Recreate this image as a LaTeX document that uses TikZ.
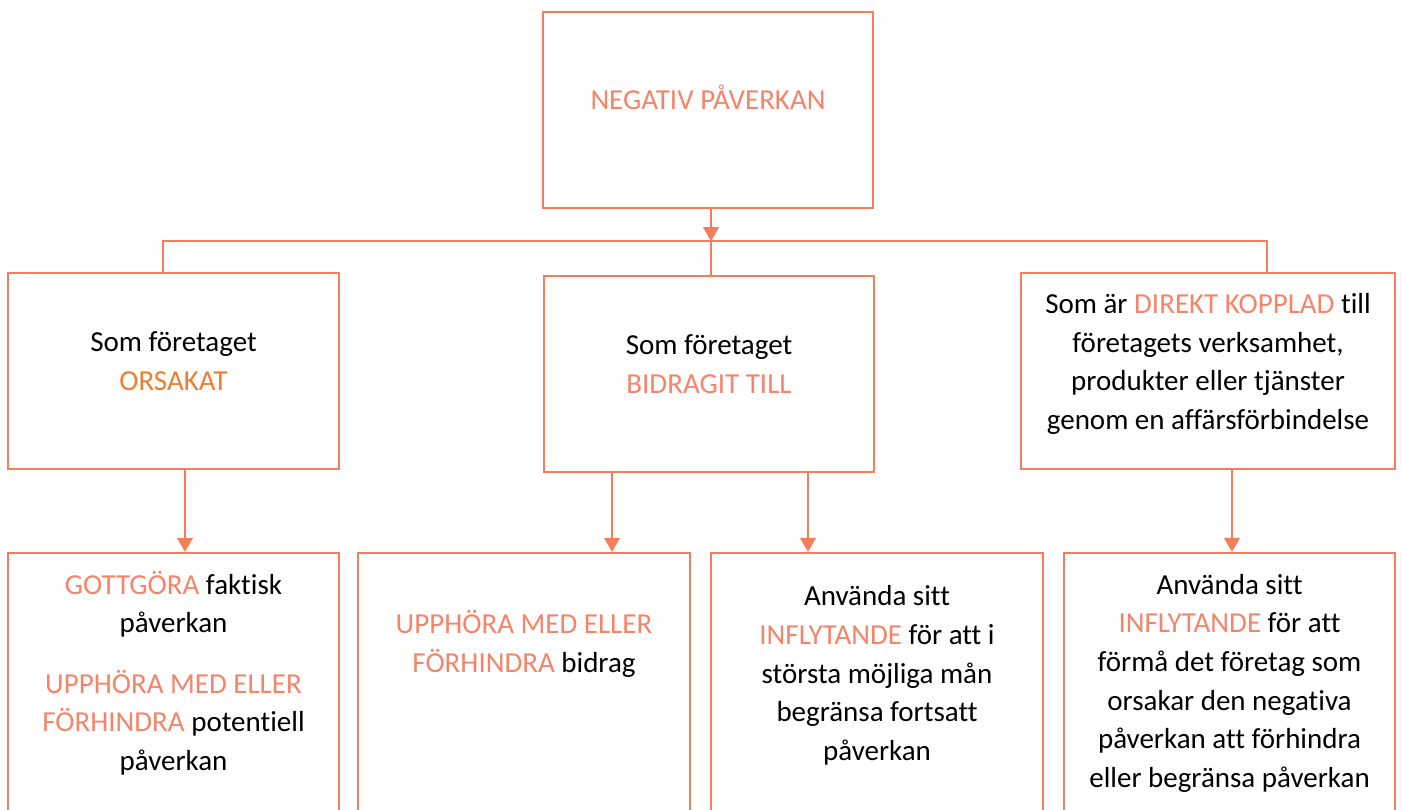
\documentclass[tikz,border=0pt]{standalone}
\usepackage{fontspec}
\setmainfont{Carlito}[Ligatures=NoCommon]
\usetikzlibrary{arrows.meta,positioning}
\definecolor{CoralLine}{HTML}{F47D5B}
\definecolor{CoralText}{HTML}{F4846A}
\definecolor{DeepOrange}{HTML}{ED7D31}
\newcommand{\coral}[1]{\textcolor{CoralText}{#1}}

\begin{document}
\begin{tikzpicture}[x=0.02cm, y=-0.02cm,
  impactbox/.style={draw=CoralLine, line width=0.05cm, minimum height=3.92cm},
  actionbox/.style={draw=CoralLine, line width=0.05cm, minimum height=6cm},
  boxtext/.style={align=center, inner sep=0pt, font=\fontsize{16.5pt}{22pt}\selectfont},
  branchline/.style={draw=CoralLine, line width=0.026cm},
  impactflow/.style={-{Triangle[length=0.28cm, width=0.32cm]}, draw=CoralLine, line width=0.026cm}
]
\clip (0,0) rectangle (1402,809);
\node[impactbox, minimum width=6.6cm] (negbox) at (708,110) {};
\node[boxtext, below=1.43cm of negbox.north] (negtext) {\strut\coral{NEGATIV PÅVERKAN}};
% second row
\node[impactbox, minimum width=6.62cm] (caused) at (173.5,371) {};
\node[impactbox, minimum width=6.6cm] (contrib) at (709,374) {};
\node[impactbox, minimum width=7.48cm] (linked) at (1208,371) {};
\node[boxtext, below=1.05cm of caused.north] (causedtext) {\strut Som företaget\\\textcolor{DeepOrange}{ORSAKAT}};
\node[boxtext, below=1.05cm of contrib.north] (contribtext) {\strut Som företaget\\\coral{BIDRAGIT TILL}};
\node[boxtext, below=0.29cm of linked.north] (linkedtext) {\strut Som är \coral{DIREKT KOPPLAD} till\\företagets verksamhet,\\produkter eller tjänster\\genom en affärsförbindelse};
% third row
\node[actionbox, minimum width=6.62cm] (remedy) at (173.5,703) {};
\node[actionbox, minimum width=6.64cm] (cease) at (524,703) {};
\node[actionbox, minimum width=6.64cm] (leverage) at (877,703) {};
\node[actionbox, minimum width=6.62cm] (influence) at (1229.5,703) {};
\node[boxtext, below=0.3cm of remedy.north] (remedytext) {\strut\coral{GOTTGÖRA} faktisk\\påverkan\\[0.43cm]\coral{UPPHÖRA MED ELLER}\\\coral{FÖRHINDRA} potentiell\\påverkan};
\node[boxtext, below=1.09cm of cease.north] (ceasetext) {\strut\coral{UPPHÖRA MED ELLER}\\\coral{FÖRHINDRA} bidrag};
\node[boxtext, below=0.53cm of leverage.north] (leveragetext) {\strut Använda sitt\\\coral{INFLYTANDE} för att i\\största möjliga mån\\begränsa fortsatt\\påverkan};
\node[boxtext, below=0.3cm of influence.north] (influencetext) {\strut Använda sitt\\\coral{INFLYTANDE} för att\\förmå det företag som\\orsakar den negativa\\påverkan att förhindra\\eller begränsa påverkan};
% connectors
\coordinate (busleft) at (163,241);
\coordinate (split) at (711,241);
\coordinate (busright) at (1267,241);
\draw[impactflow] (negbox.south -| split) -- (split);
\draw[branchline] (caused.north -| busleft) -- (busleft) -- (busright) -- (linked.north -| busright);
\draw[branchline] (split) -- (contrib.north -| split);
\draw[impactflow] ([xshift=0.23cm]caused.south) -- ([xshift=0.23cm]caused.south |- remedy.north);
\draw[impactflow] ([xshift=-1.94cm]contrib.south) -- ([xshift=-1.94cm]contrib.south |- cease.north);
\draw[impactflow] ([xshift=1.98cm]contrib.south) -- ([xshift=1.98cm]contrib.south |- leverage.north);
\draw[impactflow] ([xshift=0.48cm]linked.south) -- ([xshift=0.48cm]linked.south |- influence.north);
\end{tikzpicture}
\end{document}
